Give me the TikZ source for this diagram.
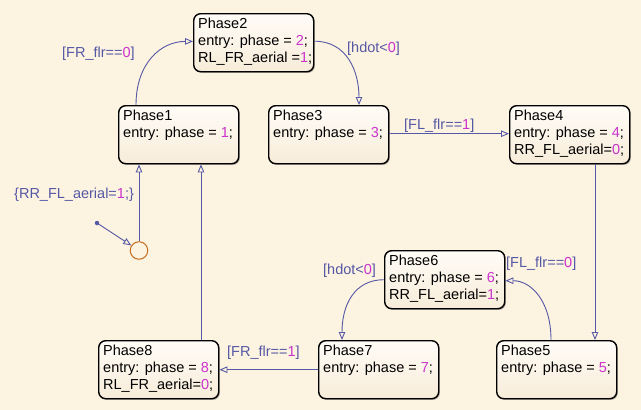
\documentclass[tikz,border=0pt]{standalone}
\usepackage{fontspec}
\setmainfont{Liberation Sans}
\usetikzlibrary{arrows.meta,calc,shadows}
\definecolor{bg}{HTML}{FDF3E1}
\definecolor{tr}{HTML}{5558A4}
\definecolor{num}{HTML}{CC33CC}
\definecolor{jc}{HTML}{C56F1F}
\definecolor{boxtop}{HTML}{FFFCF7}
\definecolor{boxbot}{HTML}{F7ECD9}
\newcommand\numc[1]{\textcolor{num}{#1}}
\begin{document}
\begin{tikzpicture}[x=1pt,y=-1pt,
 state/.style={draw=black, line width=1.4pt, rounded corners=7pt, top color=boxtop, bottom color=boxbot, minimum width=120pt, minimum height=58pt, anchor=north west, inner sep=0pt, drop shadow={shadow xshift=1.2pt, shadow yshift=-1.2pt, opacity=0.3, fill=black}},
 stext/.style={anchor=north west, align=left, inner sep=0pt, font=\fontsize{14.5}{17}\selectfont, text=black},
 tlabel/.style={anchor=base west, inner sep=0pt, font=\fontsize{14.5}{17}\selectfont, text=tr},
 trans/.style={draw=tr, line width=0.9pt, -{Triangle[open, length=8pt, width=6.5pt, line width=0.9pt]}},
 junction/.style={circle, draw=jc, line width=1pt, minimum size=17.5pt, inner sep=0pt},
 dotst/.style={circle, fill=tr, inner sep=0pt, minimum size=4.5pt},
]
\fill[bg] (0,0) rectangle (641,410);
\useasboundingbox (0,0) rectangle (641,410);

% states
\node[state] (p2) at (193,13) {};
\node[state] (p1) at (118,105) {};
\node[state] (p3) at (268,105) {};
\node[state] (p4) at (509,105) {};
\node[state] (p6) at (384,250) {};
\node[state] (p8) at (98,340) {};
\node[state] (p7) at (318,340) {};
\node[state] (p5) at (496,340) {};

\node[stext] (t2) at ($(p2.north west)+(5,5)$) {Phase2\\entry: phase = \numc{2};\\RL\_FR\_aerial =\numc{1};};
\node[stext] (t1) at ($(p1.north west)+(5,5)$) {Phase1\\entry: phase = \numc{1};};
\node[stext] (t3) at ($(p3.north west)+(5,5)$) {Phase3\\entry: phase = \numc{3};};
\node[stext] (t4) at ($(p4.north west)+(5,5)$) {Phase4\\entry: phase = \numc{4};\\RR\_FL\_aerial=\numc{0};};
\node[stext] (t6) at ($(p6.north west)+(5,5)$) {Phase6\\entry: phase = \numc{6};\\RR\_FL\_aerial=\numc{1};};
\node[stext] (t8) at ($(p8.north west)+(5,5)$) {Phase8\\entry: phase = \numc{8};\\RL\_FR\_aerial=\numc{0};};
\node[stext] (t7) at ($(p7.north west)+(5,5)$) {Phase7\\entry: phase = \numc{7};};
\node[stext] (t5) at ($(p5.north west)+(5,5)$) {Phase5\\entry: phase = \numc{5};};

% junction and default transition
\node[junction] (j) at (139,250.5) {};
\node[dotst] (d) at (97,223) {};

% transitions
\draw[trans] ($(p1.north west)+(18,0)$) .. controls ($(p1.north west)+(18,-42)$) and ($(p2.west)+(-32,-1.3)$) .. ($(p2.west)+(0,-1.3)$);
\draw[trans] ($(p2.east)+(0,-1.5)$) .. controls ($(p2.east)+(33,-1.5)$) and ($(p3.north west)+(91,-33)$) .. ($(p3.north west)+(91,0)$);
\draw[trans] ($(p3.east)+(0,-1)$) -- ($(p4.west)+(0,-1)$);
\draw[trans] ($(p4.south west)+(86,0)$) -- ($(p5.north west)+(99,0)$);
\draw[trans] ($(p5.north west)+(55,0)$) .. controls ($(p5.north west)+(55,-40)$) and ($(p6.east)+(25,1)$) .. ($(p6.east)+(0,1)$);
\draw[trans] ($(p6.west)+(0,0)$) .. controls ($(p6.west)+(-29,0)$) and ($(p7.north west)+(24,-36)$) .. ($(p7.north west)+(24,0)$);
\draw[trans] (p7.west) -- (p8.east);
\draw[trans] ($(p8.north west)+(103,0)$) -- ($(p1.south west)+(83,0)$);
\draw[trans] (j.north) -- ($(p1.south west)+(21,0)$);
\draw[trans] (d.center) -- (j);

% labels
\node[tlabel] (l12) at (62,57) {[FR\_flr==\numc{0}]};
\node[tlabel] (l23) at (347,52) {[hdot<\numc{0}]};
\node[tlabel] (l34) at (404,129) {[FL\_flr==\numc{1}]};
\node[tlabel] (l56) at (506,267) {[FL\_flr==\numc{0}]};
\node[tlabel] (l67) at (323,274) {[hdot<\numc{0}]};
\node[tlabel] (l78) at (227,356) {[FR\_flr==\numc{1}]};
\node[tlabel] (lj) at (14,198) {\{RR\_FL\_aerial=\numc{1};\}};
\end{tikzpicture}
\end{document}
